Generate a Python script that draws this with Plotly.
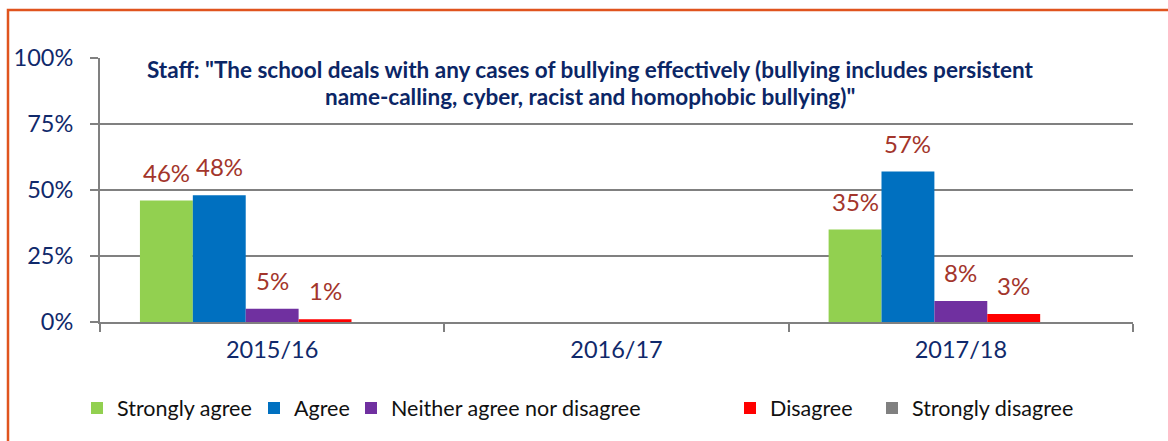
import plotly.graph_objects as go

# Survey years and response shares (%)
years = ["2015/16", "2016/17", "2017/18"]
strongly_agree = [46, None, 35]
agree = [48, None, 57]
neither = [5, None, 8]
disagree = [1, None, 3]
strongly_disagree = [0, None, 0]

series_names = ["Strongly agree", "Agree", "Neither agree nor disagree",
                "Disagree", "Strongly disagree"]
series_values = [strongly_agree, agree, neither, disagree, strongly_disagree]
series_colors = ["#92D050", "#0070C0", "#7030A0", "#FF0000", "#808080"]

y_ticks = [0, 25, 50, 75, 100]
y_tick_labels = ["0%", "25%", "50%", "75%", "100%"]

title_lines = [
    'Staff: "The school deals with any cases of bullying effectively (bullying includes persistent',
    'name-calling, cyber, racist and homophobic bullying)"',
]

W, H = 1168, 441
ML, MR, MT, MB = 100, 35, 58, 119
BARGAP = 0.232
FONT = "Lato"
NAVY = "#10296B"
LABEL_RED = "#A3352B"
GRID = "#808080"

# Horizontal pixel position of each legend swatch
legend_swatch_px = [92, 269, 366, 745, 887]

pw = W - ML - MR
ph = H - MT - MB

def px_x(p):
    return (p - ML) / pw

def px_y(p):
    return (H - MB - p) / ph

fig = go.Figure()
legend_layouts = {}
for k, (name, vals, col) in enumerate(zip(series_names, series_values, series_colors)):
    lg = "legend" if k == 0 else f"legend{k + 1}"
    fig.add_trace(go.Bar(
        name=name, x=years, y=vals, legend=lg,
        marker=dict(color=col, line=dict(width=0)),
    ))
    legend_layouts[lg] = dict(
        orientation="h", x=px_x(legend_swatch_px[k] - 15), xanchor="left",
        y=px_y(408), yanchor="middle",
        font=dict(family=FONT, size=21.5, color="#111111"),
        bgcolor="rgba(0,0,0,0)",
    )

# Value labels above each bar (zero / missing values are not labelled)
n = len(series_names)
slot = (1 - BARGAP) / n
annotations = []
for j, vals in enumerate(series_values):
    for i, v in enumerate(vals):
        if not v:
            continue
        annotations.append(dict(
            x=i + (j - (n - 1) / 2) * slot, y=v, xref="x", yref="y",
            text=f"{v}%", showarrow=False, yanchor="bottom", yshift=12,
            font=dict(family=FONT, size=24, color=LABEL_RED),
        ))

# Two-line chart title
for line, ypx in zip(title_lines, [54, 81]):
    annotations.append(dict(
        x=px_x(590), y=px_y(ypx), xref="paper", yref="paper",
        xanchor="center", yanchor="top", showarrow=False,
        text=f"<b>{line}</b>",
        font=dict(family=FONT, size=22.5, color="#0B2666"),
    ))

fig.update_layout(
    width=W, height=H,
    margin=dict(l=ML, r=MR, t=MT, b=MB),
    paper_bgcolor="white", plot_bgcolor="white",
    barmode="group", bargap=BARGAP, bargroupgap=0,
    font=dict(family=FONT),
    annotations=annotations,
    showlegend=True,
    shapes=[dict(
        type="rect", xref="paper", yref="paper",
        x0=px_x(8), x1=px_x(1190), y0=px_y(460), y1=px_y(10),
        line=dict(color="#E0541E", width=2.5), fillcolor="rgba(0,0,0,0)",
        layer="below",
    )],
    **legend_layouts,
)

fig.update_xaxes(
    type="category", categoryorder="array", categoryarray=years,
    showline=True, linecolor=GRID, linewidth=2,
    ticks="outside", tickson="boundaries", ticklen=8, tickcolor=GRID, tickwidth=2,
    tickfont=dict(family=FONT, size=23.5, color=NAVY),
    ticklabelstandoff=6, showgrid=False,
)
fig.update_yaxes(
    range=[0, 100], tickvals=y_ticks, ticktext=y_tick_labels,
    showline=True, linecolor=GRID, linewidth=2,
    showgrid=True, gridcolor=GRID, gridwidth=2,
    ticks="outside", ticklen=8, tickcolor=GRID, tickwidth=2,
    tickfont=dict(family=FONT, size=23.5, color=NAVY),
    ticklabelstandoff=12, zeroline=False,
)

fig.write_html("out.html")
